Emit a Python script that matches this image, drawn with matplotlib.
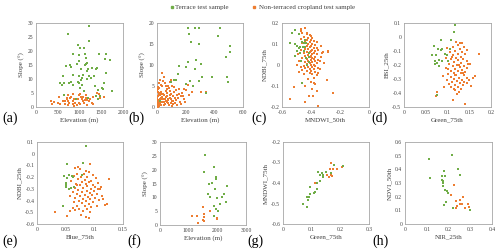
import matplotlib
matplotlib.use("Agg")
import matplotlib.pyplot as plt
from matplotlib.ticker import FuncFormatter
from matplotlib.lines import Line2D

plt.rcParams['font.family'] = ['Liberation Serif', 'DejaVu Serif']
plt.rcParams['axes.unicode_minus'] = False

GREEN = '#70AD47'
ORANGE = '#ED7D31'

# ---------------- data ----------------
a_terr = [(1217,29.0),(745,25.9),(1224,23.6),(958,22.0),(1011,21.2),(1103,21.2),(844,19.0),(1452,19.0),
          (1620,19.0),(1118,18.9),(989,18.4),(1148,17.5),(1589,17.0),(1711,16.8),(996,16.6),(1179,15.6),
          (943,15.4),(1156,15.2),(1125,15.1),(783,14.9),(684,14.6),(813,14.4),(1285,14.1),(1369,13.5),
          (1186,13.7),(1034,13.4),(1399,13.8),(1171,12.9),(1605,12.2),(844,11.5),(631,11.0),(1080,11.5),
          (981,11.0),(1323,10.9),(1217,11.1),(1049,10.5),(1255,10.4),(1034,9.7),(1171,9.9),(798,9.1),
          (958,8.8),(555,8.7),(646,8.7),(981,8.5),(760,8.5),(1567,8.7),(1049,7.7),(1346,7.6),(1019,6.9),
          (1506,6.8),(1544,6.5),(1430,6.2),(1757,5.7),(1103,5.6),(593,8.0),(844,7.7),(639,4.4),(1468,4.1),
          (1369,3.9),(1186,3.1),(913,3.0),(1414,2.9)]
a_crop = [(342,2.2),(403,1.8),(365,1.2),(517,1.5),(555,1.0),(540,3.4),(677,2.2),(707,2.7),(738,4.2),
          (745,2.3),(768,1.6),(783,3.1),(806,3.7),(844,2.1),(844,1.0),(882,2.7),(905,1.6),(973,2.7),
          (996,1.6),(1019,4.8),(1034,3.4),(1057,2.9),(1072,2.3),(1087,3.7),(1110,1.5),(1125,2.4),
          (1141,3.1),(1179,2.4),(1224,2.1),(1278,1.5),(1300,3.6),(1316,1.2),(1399,5.0),(1445,4.6),
          (1468,3.1),(1574,3.7),(1179,0.7),(951,0.7),(859,4.8),(677,1.2),(745,0.6),(981,4.2),(720,3.3),
          (1010,0.9),(1150,4.4),(620,2.0),(880,0.5),(1250,2.8)]

b_terr = [(215,18.7),(263,18.7),(291,18.7),(438,18.7),(224,17.3),(425,16.9),(238,15.4),(295,14.9),
          (512,14.6),(508,13.0),(478,12.0),(270,11.2),(307,10.3),(219,10.7),(152,9.7),(205,9.6),(263,9.1),
          (383,7.1),(485,7.2),(492,6.0),(316,7.1),(291,6.3),(233,6.1),(118,6.4),(99,6.0),(132,6.4),
          (252,5.0),(344,3.4),(23,1.4),(200,5.4),(145,7.8)]
b_crop = [(5,0.3),(8,1.0),(12,1.5),(3,2.1),(15,0.6),(20,2.8),(6,3.5),(10,4.2),(25,1.2),(30,0.4),
          (18,1.9),(2,0.8),(35,2.4),(40,1.1),(45,3.2),(50,0.5),(55,2.0),(60,1.5),(65,3.7),(70,2.6),
          (75,0.9),(80,1.8),(85,4.5),(90,2.2),(95,1.0),(100,3.0),(105,0.3),(110,2.7),(115,1.4),(120,3.6),
          (125,2.1),(130,4.0),(135,1.7),(140,2.9),(150,4.4),(160,1.2),(165,2.5),(175,3.3),(185,1.8),
          (200,4.0),(215,5.2),(225,2.8),(245,3.6),(310,3.5),(344,3.5),(35,8.2),(46,7.2),(22,6.5),(12,5.8),
          (38,4.9),(55,5.6),(70,4.3),(100,6.5),(105,5.1),(90,5.9),(118,4.7),(185,4.2),(4,0.1),(9,2.6),
          (14,3.1),(17,0.2),(22,1.6),(27,2.2),(32,3.0),(7,4.8),(3,3.9),(11,0.5),(24,0.9),(28,3.6),(42,2.0),
          (48,1.3),(52,2.9),(58,0.7),(62,2.4),(67,1.1),(72,3.3),(78,1.6),(83,0.4),(88,2.9),(93,3.8),
          (98,1.9),(108,1.5),(112,0.8),(128,1.0),(138,0.5),(145,2.2),(155,3.0),(170,0.6),(180,2.6),
          (195,1.3),(16,4.6),(26,5.2),(44,6.1),(62,5.0),(80,4.9),(6,1.7),(19,3.4),(33,1.8),(1,1.2)]

c_terr = [(-0.508,0.168),(-0.533,0.154),(-0.480,0.147),(-0.444,0.117),(-0.545,0.104),(-0.508,0.098),
          (-0.462,0.109),(-0.450,0.104),(-0.434,0.104),(-0.497,0.090),(-0.474,0.086),(-0.485,0.080),
          (-0.439,0.086),(-0.446,0.069),(-0.497,0.069),(-0.474,0.059),(-0.508,0.043),(-0.416,0.040),
          (-0.434,0.032),(-0.467,0.021),(-0.411,0.014),(-0.425,0.000),(-0.462,-0.088),(-0.416,0.059),
          (-0.457,0.088)]
c_crop = [(-0.44,0.175),(-0.43,0.15),(-0.41,0.145),(-0.40,0.14),(-0.45,0.135),(-0.42,0.13),(-0.39,0.128),
          (-0.47,0.125),(-0.43,0.12),(-0.40,0.118),(-0.38,0.115),(-0.44,0.11),(-0.41,0.108),(-0.46,0.105),
          (-0.42,0.10),(-0.39,0.098),(-0.37,0.095),(-0.43,0.092),(-0.40,0.09),(-0.45,0.088),(-0.41,0.085),
          (-0.38,0.082),(-0.36,0.08),(-0.44,0.078),(-0.42,0.075),(-0.39,0.072),(-0.47,0.07),(-0.40,0.068),
          (-0.37,0.065),(-0.43,0.062),(-0.41,0.06),(-0.38,0.058),(-0.45,0.055),(-0.39,0.052),(-0.36,0.05),
          (-0.42,0.048),(-0.40,0.045),(-0.44,0.042),(-0.37,0.04),(-0.41,0.038),(-0.39,0.035),(-0.46,0.032),
          (-0.43,0.03),(-0.38,0.028),(-0.35,0.025),(-0.40,0.022),(-0.42,0.02),(-0.37,0.018),(-0.44,0.015),
          (-0.39,0.012),(-0.41,0.01),(-0.36,0.008),(-0.43,0.005),(-0.38,0.002),(-0.40,0.0),(-0.45,-0.003),
          (-0.37,-0.005),(-0.42,-0.008),(-0.39,-0.01),(-0.35,-0.012),(-0.44,-0.015),(-0.41,-0.018),
          (-0.38,-0.02),(-0.46,-0.025),(-0.40,-0.028),(-0.43,-0.03),(-0.37,-0.032),(-0.48,-0.035),
          (-0.41,-0.04),(-0.45,-0.042),(-0.39,-0.045),(-0.36,-0.05),(-0.33,0.04),(-0.32,0.06),(-0.28,0.065),
          (-0.34,0.02),(-0.31,0.01),(-0.35,0.07),(-0.33,0.09),(-0.36,0.11),(-0.34,-0.02),(-0.35,-0.04),
          (-0.47,0.16),(-0.46,0.15),(-0.45,0.06),(-0.48,0.02),(-0.49,0.05),(-0.50,0.0),(-0.47,-0.01),
          (-0.38,-0.06),(-0.42,-0.065),(-0.40,-0.08),(-0.37,-0.09),(-0.547,-0.162),(-0.520,-0.107),
          (-0.439,-0.174),(-0.352,-0.194),(-0.416,-0.147),(-0.393,-0.114),(-0.379,-0.085),(-0.287,-0.072),
          (-0.250,-0.131),(-0.283,0.064),(-0.322,0.059),(-0.467,0.173),(-0.427,0.149),(-0.36,-0.125),
          (-0.385,-0.15),(-0.44,-0.1)]

d_terr = [(0.118,0.086),(0.115,0.036),(0.084,-0.022),(0.108,-0.022),(0.069,-0.062),(0.088,-0.084),
          (0.086,-0.091),(0.079,-0.089),(0.105,-0.086),(0.095,-0.118),(0.064,-0.130),(0.073,-0.130),
          (0.098,-0.128),(0.081,-0.164),(0.072,-0.174),(0.075,-0.185),(0.088,-0.171),(0.100,-0.171),
          (0.080,-0.205),(0.072,-0.190),(0.077,-0.413)]
d_crop = [(0.119,-0.035),(0.128,-0.045),(0.133,-0.04),(0.124,-0.06),(0.138,-0.07),(0.113,-0.075),
          (0.098,-0.08),(0.128,-0.085),(0.145,-0.09),(0.118,-0.1),(0.134,-0.105),(0.106,-0.11),
          (0.125,-0.12),(0.141,-0.125),(0.172,-0.12),(0.113,-0.13),(0.131,-0.14),(0.12,-0.15),
          (0.136,-0.155),(0.108,-0.16),(0.125,-0.165),(0.145,-0.17),(0.115,-0.18),(0.131,-0.185),
          (0.152,-0.19),(0.103,-0.195),(0.122,-0.2),(0.138,-0.205),(0.112,-0.21),(0.128,-0.215),
          (0.145,-0.22),(0.096,-0.225),(0.118,-0.23),(0.134,-0.235),(0.107,-0.24),(0.124,-0.245),
          (0.141,-0.25),(0.114,-0.255),(0.131,-0.26),(0.101,-0.265),(0.12,-0.27),(0.137,-0.275),
          (0.163,-0.28),(0.159,-0.29),(0.109,-0.285),(0.126,-0.29),(0.144,-0.295),(0.116,-0.3),
          (0.133,-0.305),(0.098,-0.31),(0.121,-0.315),(0.139,-0.32),(0.111,-0.325),(0.128,-0.33),
          (0.104,-0.335),(0.118,-0.34),(0.135,-0.345),(0.123,-0.355),(0.108,-0.36),(0.13,-0.37),
          (0.115,-0.375),(0.155,-0.35),(0.145,-0.33),(0.1,-0.23),(0.09,-0.28),(0.092,-0.36),
          (0.075,-0.395),(0.073,-0.42),(0.122,-0.41),(0.118,-0.38),(0.113,-0.45),(0.14,-0.48),
          (0.126,-0.395),(0.136,-0.26),(0.11,-0.145),(0.096,-0.15),(0.146,-0.19),(0.15,-0.31),
          (0.127,-0.2),(0.117,-0.27)]

e_terr = [(0.0855,0.065),(0.052,-0.085),(0.081,-0.082),(0.047,-0.19),(0.055,-0.18),(0.061,-0.19),
          (0.063,-0.2),(0.053,-0.21),(0.078,-0.18),(0.050,-0.25),(0.051,-0.27),(0.064,-0.28),
          (0.059,-0.29),(0.050,-0.28),(0.055,-0.30),(0.045,-0.45)]
e_crop = [(0.092,-0.085),(0.072,-0.11),(0.066,-0.12),(0.075,-0.13),(0.086,-0.15),(0.091,-0.16),
          (0.069,-0.17),(0.082,-0.175),(0.098,-0.18),(0.064,-0.19),(0.077,-0.195),(0.088,-0.2),
          (0.103,-0.205),(0.126,-0.215),(0.071,-0.22),(0.083,-0.225),(0.095,-0.23),(0.06,-0.235),
          (0.078,-0.24),(0.09,-0.245),(0.107,-0.25),(0.068,-0.255),(0.085,-0.26),(0.097,-0.265),
          (0.075,-0.27),(0.088,-0.275),(0.101,-0.28),(0.112,-0.285),(0.066,-0.29),(0.081,-0.295),
          (0.094,-0.3),(0.106,-0.305),(0.072,-0.31),(0.087,-0.315),(0.099,-0.32),(0.062,-0.325),
          (0.079,-0.33),(0.092,-0.335),(0.104,-0.34),(0.069,-0.345),(0.084,-0.35),(0.096,-0.355),
          (0.114,-0.36),(0.075,-0.365),(0.089,-0.37),(0.101,-0.375),(0.066,-0.38),(0.08,-0.385),
          (0.093,-0.39),(0.108,-0.395),(0.073,-0.4),(0.086,-0.405),(0.098,-0.41),(0.064,-0.415),
          (0.078,-0.42),(0.091,-0.425),(0.122,-0.43),(0.118,-0.44),(0.07,-0.445),(0.083,-0.45),
          (0.095,-0.455),(0.105,-0.45),(0.062,-0.46),(0.074,-0.47),(0.088,-0.475),(0.066,-0.48),
          (0.08,-0.485),(0.032,-0.5),(0.058,-0.49),(0.092,-0.5),(0.052,-0.53),(0.086,-0.54),
          (0.09,-0.55),(0.076,-0.52),(0.11,-0.3),(0.115,-0.39),(0.069,-0.27),(0.058,-0.36)]

f_terr = [(1567,25.3),(1544,19.1),(1895,20.8),(1965,17.5),(1953,16.6),(1825,15.2),(1719,15.0),
          (2327,14.2),(1930,12.9),(1673,11.1),(2222,11.2),(1754,10.2),(2152,10.3),(1988,9.7),
          (2315,8.3),(2093,7.7),(1871,6.9),(1953,5.8),(2035,5.0),(1883,3.2)]
f_crop = [(1497,6.4),(1298,3.4),(1520,3.9),(1123,3.2),(1743,5.1),(1544,2.8),(1977,2.6),(1977,2.2),
          (1509,1.9),(1532,1.5),(1310,0.9)]

g_terr = [(0.069,-0.50),(0.082,-0.518),(0.083,-0.47),(0.090,-0.467),(0.088,-0.485),(0.094,-0.452),
          (0.095,-0.418),(0.107,-0.45),(0.111,-0.445),(0.120,-0.43),(0.120,-0.40),(0.128,-0.39),
          (0.130,-0.362),(0.121,-0.346),(0.135,-0.35),(0.141,-0.362),(0.140,-0.37),(0.150,-0.345),
          (0.167,-0.35),(0.177,-0.31),(0.211,-0.318)]
g_crop = [(0.111,-0.40),(0.153,-0.362),(0.163,-0.334),(0.172,-0.364),(0.169,-0.302),(0.176,-0.334),
          (0.187,-0.334),(0.206,-0.322),(0.162,-0.37),(0.166,-0.36)]

h_terr = [(0.218,0.508),(0.109,0.474),(0.243,0.403),(0.251,0.359),(0.117,0.340),(0.180,0.388),
          (0.169,0.349),(0.186,0.354),(0.174,0.315),(0.177,0.300),(0.175,0.280),(0.185,0.246),
          (0.192,0.241),(0.198,0.228),(0.180,0.138),(0.188,0.162),(0.220,0.118),(0.300,0.100),
          (0.170,0.32)]
h_crop = [(0.223,0.285),(0.212,0.209),(0.265,0.197),(0.251,0.174),(0.235,0.170),(0.288,0.150),
          (0.292,0.125),(0.262,0.145),(0.251,0.143),(0.278,0.120),(0.235,0.120),(0.238,0.130)]

legend_labels = ['Terrace test sample', 'Non-terraced cropland test sample']

panels = [
    ('(a)', a_terr, a_crop, (0, 2000), [0, 500, 1000, 1500, 2000], (0, 30), [0, 5, 10, 15, 20, 25, 30], 'Elevation (m)', 'Slope (°)'),
    ('(b)', b_terr, b_crop, (0, 600), [0, 200, 400, 600], (0, 20), [0, 5, 10, 15, 20], 'Elevation (m)', 'Slope (°)'),
    ('(c)', c_terr, c_crop, (-0.6, 0), [-0.6, -0.4, -0.2, 0], (-0.2, 0.2), [-0.2, -0.1, 0, 0.1, 0.2], 'MNDWI_50th', 'NDBI_75th'),
    ('(d)', d_terr, d_crop, (0, 0.2), [0, 0.05, 0.1, 0.15, 0.2], (-0.5, 0.1), [-0.5, -0.4, -0.3, -0.2, -0.1, 0, 0.1], 'Green_75th', 'BSI_25th'),
    ('(e)', e_terr, e_crop, (0, 0.15), [0, 0.05, 0.1, 0.15], (-0.6, 0.1), [-0.6, -0.5, -0.4, -0.3, -0.2, -0.1, 0, 0.1], 'Blue_75th', 'NDBI_25th'),
    ('(f)', f_terr, f_crop, (0, 3000), [0, 1000, 2000, 3000], (0, 30), [0, 5, 10, 15, 20, 25, 30], 'Elevation (m)', 'Slope (°)'),
    ('(g)', g_terr, g_crop, (0, 0.3), [0, 0.1, 0.2, 0.3], (-0.6, -0.2), [-0.6, -0.5, -0.4, -0.3, -0.2], 'Green_75th', 'MNDWI_75th'),
    ('(h)', h_terr, h_crop, (0, 0.4), [0, 0.1, 0.2, 0.3, 0.4], (0, 0.6), [0, 0.1, 0.2, 0.3, 0.4, 0.5, 0.6], 'NIR_25th', 'NDVI_50th'),
]

# axes boxes in pixels: left, top, right, bottom
boxes = [(36, 23, 123, 107), (157, 23, 243, 107), (282, 23, 369, 107), (404, 23, 491, 107),
         (37, 142, 123, 224), (160, 142, 246, 225), (283, 142, 369, 224), (405, 142, 492, 224)]
label_pos = [(2, 118), (128, 118), (251, 118), (371, 118),
             (2, 241), (127, 241), (247, 241), (372, 241)]

W, H = 500, 250
fig = plt.figure(figsize=(5, 2.5), dpi=100)
fmt = FuncFormatter(lambda v, p: ('%g' % round(v, 6)))

for (lab, terr, crop, xl, xt, yl, yt, xlab, ylab), (l, t, r, b), (lx, ly) in zip(panels, boxes, label_pos):
    ax = fig.add_axes([l / W, 1 - b / H, (r - l) / W, (b - t) / H])
    ax.scatter([p[0] for p in crop], [p[1] for p in crop], s=4, marker='s', color=ORANGE, linewidths=0, zorder=3)
    ax.scatter([p[0] for p in terr], [p[1] for p in terr], s=4, marker='s', color=GREEN, linewidths=0, zorder=3)
    ax.set_xlim(*xl)
    ax.set_ylim(*yl)
    ax.set_xticks(xt)
    ax.set_yticks(yt)
    ax.xaxis.set_major_formatter(fmt)
    ax.yaxis.set_major_formatter(fmt)
    ax.tick_params(length=0, labelsize=4, pad=2, colors='#404040')
    for s in ax.spines.values():
        s.set_color('#a6a6a6')
        s.set_linewidth(0.6)
    ax.set_xlabel(xlab, fontsize=5, labelpad=2, color='#404040')
    ax.set_ylabel(ylab, fontsize=5, labelpad=2, color='#404040')
    fig.text(lx / W, 1 - ly / H, lab, fontsize=10, va='center', ha='left', color='black')

# legend drawn manually at top
for (mx, tx), color, text in zip([(172, 175), (254, 259)], [GREEN, ORANGE], legend_labels):
    fig.add_artist(Line2D([mx / W], [1 - 7 / H], marker='s', ls='', color=color, markersize=1.8,
                          transform=fig.transFigure))
    fig.text(tx / W, 1 - 7 / H, text, fontsize=5, va='center', ha='left', color='#404040')

fig.savefig('out.png', dpi=100)
